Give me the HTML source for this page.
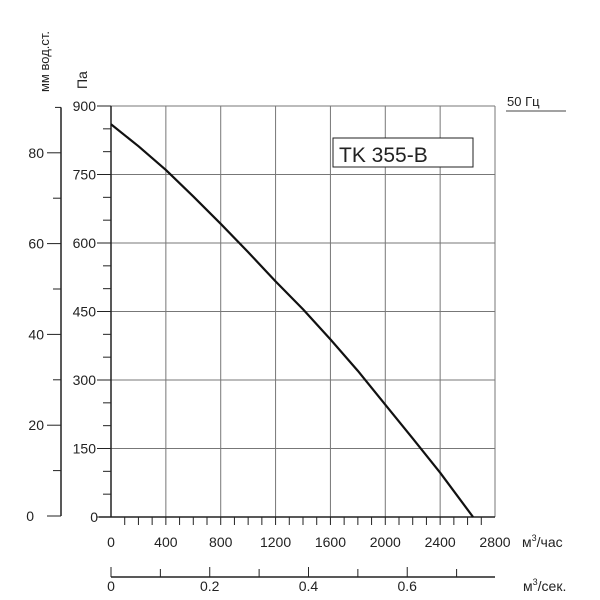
<!DOCTYPE html>
<html><head><meta charset="utf-8"><style>
html,body{margin:0;padding:0;background:#fff}
svg{display:block}
text{font-family:"Liberation Sans","DejaVu Sans",sans-serif;fill:#222}
</style></head><body>
<svg id="chart" width="600" height="600"></svg>
<script>
const flowTicks=[0,400,800,1200,1600,2000,2400,2800];
const paTicks=[0,150,300,450,600,750,900];
const mmTicks=[0,20,40,60,80];
const secTicks=[0,0.2,0.4,0.6];
const curveFlow=[0,200,400,600,800,1000,1200,1400,1600,1800,2000,2200,2400,2640];
const curvePa=[860,812,760,702,642,580,516,455,389,320,246,172,97,0];
const NS="http://www.w3.org/2000/svg";
const svg=document.getElementById('chart');
const X0=111,X1=495,Y0=517,Y1=106;
const xs=v=>X0+(v/2800)*(X1-X0);
const ys=v=>Y0-(v/900)*(Y0-Y1);
const ym=v=>516-v*4.54;
const xsec=v=>xs(v*3600);
function el(tag,attrs,txt){const e=document.createElementNS(NS,tag);for(const k in attrs)e.setAttribute(k,attrs[k]);if(txt!==undefined)e.textContent=txt;svg.appendChild(e);return e;}
flowTicks.forEach(v=>{const l=el('line',{x1:xs(v),x2:xs(v),y1:Y1,y2:Y0,stroke:'#777','stroke-width':1});

});
paTicks.forEach(v=>{const l=el('line',{x1:X0,x2:X1,y1:ys(v),y2:ys(v),stroke:'#777','stroke-width':1});

});
const ax=el('line',{x1:X0,x2:X0,y1:Y1,y2:Y0,stroke:'#222','stroke-width':1.5});


const bx=el('line',{x1:X0-12,x2:X1,y1:Y0,y2:Y0,stroke:'#222','stroke-width':1.5});


for(let v=0;v<=900;v+=50){const major=v%150===0;el('line',{x1:major?X0-14:X0-8,x2:X0,y1:ys(v),y2:ys(v),stroke:'#222','stroke-width':1});}
paTicks.forEach(v=>{const t=el('text',{x:v===0?98:96,y:ys(v)+5,'font-size':14,'text-anchor':'end'},v);

});
el('line',{x1:61,x2:61,y1:ym(90),y2:ym(0),stroke:'#222','stroke-width':1.5});
el('line',{x1:55,x2:61,y1:ym(90),y2:ym(90),stroke:'#222','stroke-width':1});
for(let v=0;v<=80;v+=10){const major=v%20===0;el('line',{x1:major?47:53,x2:61,y1:ym(v),y2:ym(v),stroke:'#222','stroke-width':1});}
mmTicks.forEach(v=>{const t=el('text',{x:v===0?34:44,y:ym(v)+5,'font-size':14,'text-anchor':'end'},v);

});
for(let v=100;v<2800;v+=100){el('line',{x1:xs(v),x2:xs(v),y1:Y0,y2:Y0+8,stroke:'#222','stroke-width':1});}
flowTicks.forEach(v=>{const t=el('text',{x:xs(v),y:547,'font-size':14,'text-anchor':'middle'},v);

});
const u1=el('text',{x:522,y:547,'font-size':14},'м');const ts=document.createElementNS(NS,'tspan');ts.setAttribute('dy','-6');ts.setAttribute('font-size','9');ts.textContent='3';u1.appendChild(ts);const ts2=document.createElementNS(NS,'tspan');ts2.setAttribute('dy','6');ts2.textContent='/час';u1.appendChild(ts2);


el('line',{x1:X0,x2:X1,y1:577,y2:577,stroke:'#222','stroke-width':1.5});
for(let v=0;v<=0.7001;v+=0.1){el('line',{x1:xsec(v),x2:xsec(v),y1:577,y2:v*10%2<0.5||v*10%2>1.5?567:569,stroke:'#222','stroke-width':1});}
secTicks.forEach(v=>{const t=el('text',{x:xsec(v),y:591,'font-size':14,'text-anchor':'middle'},v===0?'0':String(v));

});
const u2=el('text',{x:523,y:591,'font-size':14},'м');const t3=document.createElementNS(NS,'tspan');t3.setAttribute('dy','-6');t3.setAttribute('font-size','9');t3.textContent='3';u2.appendChild(t3);const t4=document.createElementNS(NS,'tspan');t4.setAttribute('dy','6');t4.textContent='/сек.';u2.appendChild(t4);


const at1=el('text',{x:0,y:0,'font-size':13,transform:'translate(49,92) rotate(-90)'},'мм вод.ст.');


const at2=el('text',{x:0,y:0,'font-size':14,transform:'translate(87,89) rotate(-90)'},'Па');


const p=el('polyline',{points:curveFlow.map((f,i)=>xs(f)+','+ys(curvePa[i])).join(' '),fill:'none',stroke:'#111','stroke-width':2.2,'stroke-linejoin':'round'});


const r=el('rect',{x:333,y:138,width:140,height:29,fill:'#fff',stroke:'#222','stroke-width':1});


const mt=el('text',{x:339,y:162,'font-size':21},'TK 355-B');


const hz=el('text',{x:507,y:106,'font-size':13},'50  Гц');


el('line',{x1:506,x2:566,y1:111,y2:111,stroke:'#444','stroke-width':1});
</script>
</body></html>
